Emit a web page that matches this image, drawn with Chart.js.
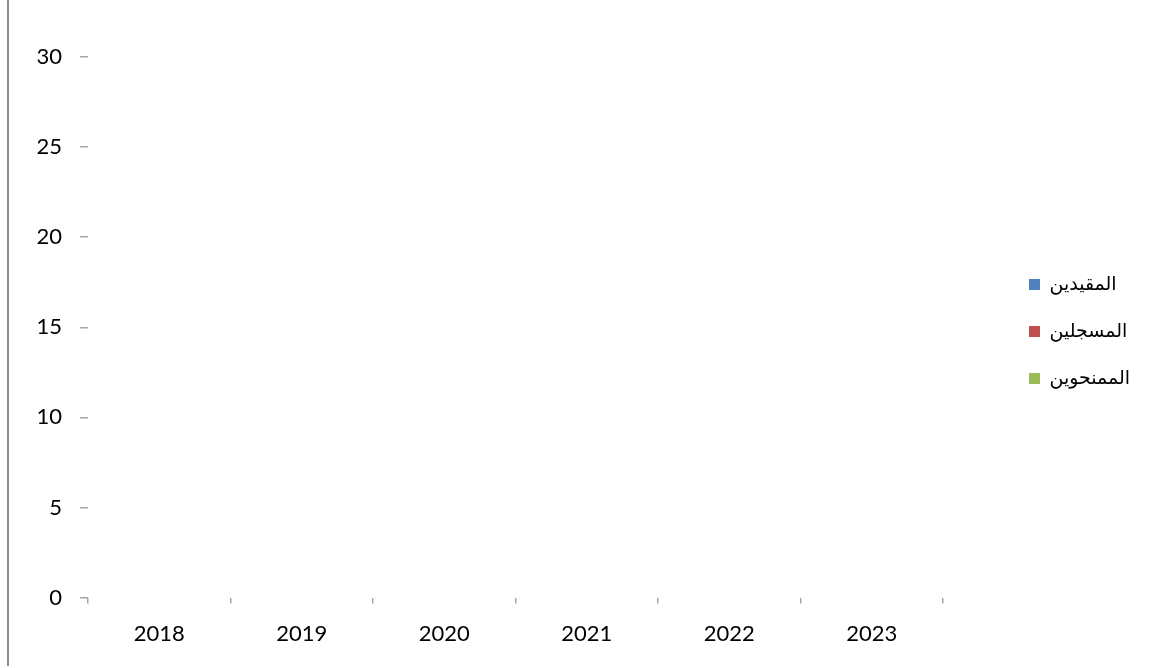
<!DOCTYPE html>
<html>
<head>
<meta charset="utf-8">
<script src="https://cdn.jsdelivr.net/npm/chart.js@4"></script>
<style>
  html, body { margin: 0; padding: 0; background: #fff; }
  #wrap { position: relative; width: 1153px; height: 668px; }
  #edge { position: absolute; left: 7px; top: 0; width: 2px; height: 666px; background: #8c8c8c; }
  canvas { position: absolute; left: 0; top: 0; }
</style>
</head>
<body>
<div id="wrap">
  <div id="edge"></div>
  <canvas id="chart" width="1153" height="668"></canvas>
</div>
<script>
// years on the x axis
var years = ["2018", "2019", "2020", "2021", "2022", "2023"];

// series - the source chart is empty, every value is zero
var enrolled = [0, 0, 0, 0, 0, 0];   // المقيدين
var registered = [0, 0, 0, 0, 0, 0]; // المسجلين
var granted = [0, 0, 0, 0, 0, 0];    // الممنحوين

var seriesNames = ["المقيدين", "المسجلين", "الممنحوين"];
var seriesColors = ["#4f81bd", "#c0504d", "#9bbb59"];

var yMin = 0;
var yMax = 30;
var yStep = 5;

var tickFont = { family: "Lato, 'Open Sans', sans-serif", size: 22 };
var legendFont = { family: "'Liberation Sans', 'DejaVu Sans', sans-serif", size: 19 };

// legend sits on the right but with a wide empty gap before it
var legendGap = {
  id: "legendGap",
  beforeInit: function(chart) {
    var fit = chart.legend.fit;
    chart.legend.fit = function() {
      fit.bind(chart.legend)();
      this.width = 210;
    };
  },
  afterLayout: function(chart) {
    chart.legend.left += 58;
    chart.legend.top -= 29;
    chart.legend.bottom -= 29;
  }
};

var ctx = document.getElementById("chart").getContext("2d");
new Chart(ctx, {
  type: "bar",
  data: {
    labels: years,
    datasets: [
      { label: seriesNames[0], data: enrolled, backgroundColor: seriesColors[0], borderWidth: 0 },
      { label: seriesNames[1], data: registered, backgroundColor: seriesColors[1], borderWidth: 0 },
      { label: seriesNames[2], data: granted, backgroundColor: seriesColors[2], borderWidth: 0 }
    ]
  },
  options: {
    responsive: false,
    animation: false,
    layout: { padding: { top: 57, bottom: 4, left: 0, right: 0 } },
    plugins: {
      tooltip: { enabled: false },
      legend: {
        position: "right",
        labels: {
          boxWidth: 11,
          boxHeight: 11,
          padding: 28,
          color: "#000",
          font: legendFont
        }
      }
    },
    scales: {
      x: {
        offset: true,
        border: { display: false },
        grid: { offset: true, drawOnChartArea: false, drawTicks: true, tickLength: 6, color: "#a6a6a6", lineWidth: 1.5 },
        ticks: { color: "#000", font: tickFont, padding: 17, maxRotation: 0 }
      },
      y: {
        min: yMin,
        max: yMax,
        border: { display: false },
        afterFit: function(scale) { scale.width = 88; },
        grid: { drawOnChartArea: false, drawTicks: true, tickLength: 8, color: "#a6a6a6", lineWidth: 1.5 },
        ticks: { stepSize: yStep, color: "#000", font: tickFont, padding: 18 }
      }
    }
  },
  plugins: [legendGap]
});
</script>
</body>
</html>
